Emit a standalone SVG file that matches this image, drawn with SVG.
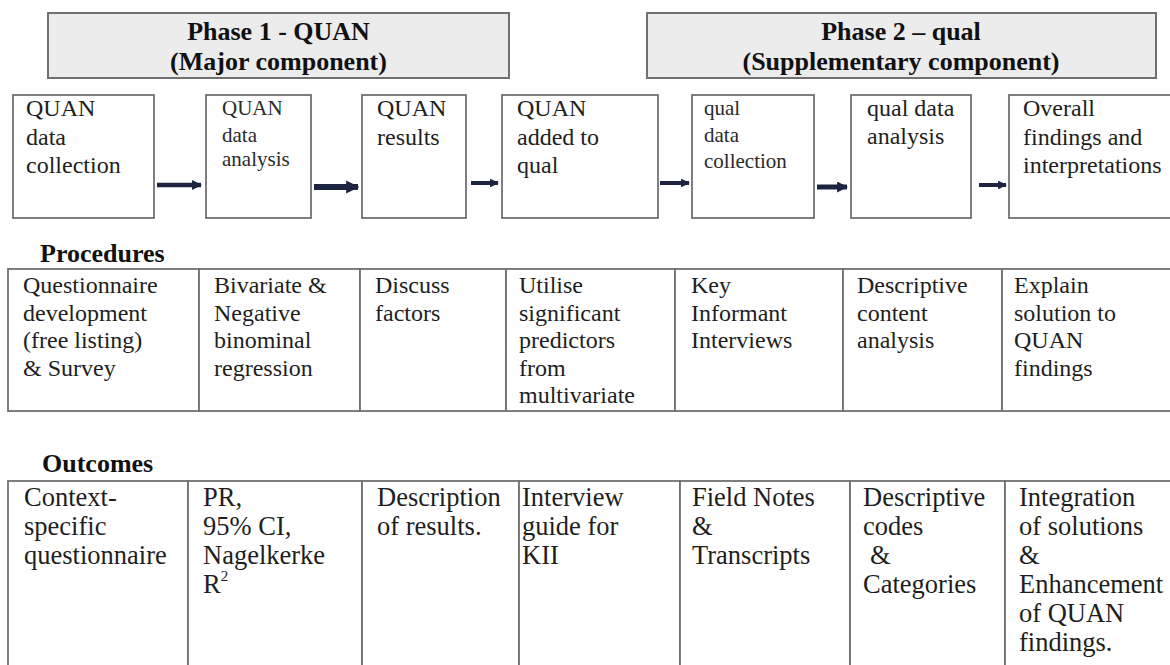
<svg xmlns="http://www.w3.org/2000/svg" width="1170" height="665" viewBox="0 0 1170 665">
<defs>
<style>
.bg{fill:#ffffff}
.phase{fill:#ececec;stroke:#707070;stroke-width:2}
.box{fill:#ffffff;stroke:#606060;stroke-width:1.6}
.cell{fill:#ffffff;stroke:#707070;stroke-width:1.8}
.t{font-family:"Liberation Serif","Times New Roman",serif;font-size:24px;fill:#1e1e1e}
.ts{font-family:"Liberation Serif","Times New Roman",serif;font-size:21px;fill:#2a2a2a}
.to{font-family:"Liberation Serif","Times New Roman",serif;font-size:26.5px;fill:#1e1e1e}
.h{font-family:"Liberation Serif","Times New Roman",serif;font-size:26px;font-weight:bold;fill:#111111}
.arr{stroke:#1c2440;fill:none}
</style>
<marker id="ah" viewBox="0 0 10 10" refX="9" refY="5" markerWidth="2.2" markerHeight="2.2" orient="auto" markerUnits="strokeWidth">
<path d="M0,0 L10,5 L0,10 Z" fill="#1c2440"/>
</marker>
</defs>
<rect class="bg" x="0" y="0" width="1170" height="665"/>

<g id="phase1">
<rect class="phase" x="48" y="13" width="461" height="65"/>
<text class="h" x="278.5" y="40" text-anchor="middle">Phase 1 - QUAN</text>
<text class="h" x="278.5" y="70" text-anchor="middle">(Major component)</text>
</g>
<g id="phase2">
<rect class="phase" x="647" y="13" width="509" height="65"/>
<text class="h" x="901" y="40" text-anchor="middle">Phase 2 – qual</text>
<text class="h" x="901" y="70" text-anchor="middle">(Supplementary component)</text>
</g>

<g id="step1">
<rect class="box" x="13" y="95" width="141" height="123"/>
<text class="t" x="26" y="116">QUAN</text>
<text class="t" x="26" y="145">data</text>
<text class="t" x="26" y="173">collection</text>
</g>
<g id="step2">
<rect class="box" x="206" y="95" width="105" height="123"/>
<text class="ts" x="222" y="115">QUAN</text>
<text class="ts" x="222" y="142">data</text>
<text class="ts" x="222" y="166">analysis</text>
</g>
<g id="step3">
<rect class="box" x="362" y="95" width="104" height="123"/>
<text class="t" x="377" y="116">QUAN</text>
<text class="t" x="377" y="145">results</text>
</g>
<g id="step4">
<rect class="box" x="502" y="95" width="156" height="123"/>
<text class="t" x="517" y="116">QUAN</text>
<text class="t" x="517" y="145">added to</text>
<text class="t" x="517" y="173">qual</text>
</g>
<g id="step5">
<rect class="box" x="692" y="95" width="122" height="123"/>
<text class="ts" x="704" y="115">qual</text>
<text class="ts" x="704" y="142">data</text>
<text class="ts" x="704" y="168">collection</text>
</g>
<g id="step6">
<rect class="box" x="851" y="95" width="120" height="123"/>
<text class="t" x="867" y="116">qual data</text>
<text class="t" x="867" y="144">analysis</text>
</g>
<g id="step7">
<rect class="box" x="1009" y="95" width="165" height="123"/>
<text class="t" x="1023" y="116">Overall</text>
<text class="t" x="1023" y="145">findings and</text>
<text class="t" x="1023" y="173">interpretations</text>
</g>

<g id="connectors">
<line class="arr" x1="157" y1="185" x2="201" y2="185" stroke-width="4.5" marker-end="url(#ah)"/>
<line class="arr" x1="314" y1="187" x2="358" y2="187" stroke-width="6" marker-end="url(#ah)"/>
<line class="arr" x1="471" y1="183" x2="498" y2="183" stroke-width="4" marker-end="url(#ah)"/>
<line class="arr" x1="660" y1="183" x2="689" y2="183" stroke-width="4" marker-end="url(#ah)"/>
<line class="arr" x1="817" y1="187" x2="847" y2="187" stroke-width="5" marker-end="url(#ah)"/>
<line class="arr" x1="979" y1="185" x2="1006" y2="185" stroke-width="4" marker-end="url(#ah)"/>
</g>

<g id="procedures-label">
<text class="h" x="40" y="262">Procedures</text>
</g>
<g id="procedures">
<g id="proc1">
<rect class="cell" x="8" y="269" width="191" height="142"/>
<text class="t" x="23" y="293">Questionnaire</text>
<text class="t" x="23" y="321">development</text>
<text class="t" x="23" y="348">(free listing)</text>
<text class="t" x="23" y="376">&amp; Survey</text>
</g>
<g id="proc2">
<rect class="cell" x="199" y="269" width="161" height="142"/>
<text class="t" x="214" y="293">Bivariate &amp;</text>
<text class="t" x="214" y="321">Negative</text>
<text class="t" x="214" y="348">binominal</text>
<text class="t" x="214" y="376">regression</text>
</g>
<g id="proc3">
<rect class="cell" x="360" y="269" width="146" height="142"/>
<text class="t" x="375" y="293">Discuss</text>
<text class="t" x="375" y="321">factors</text>
</g>
<g id="proc4">
<rect class="cell" x="506" y="269" width="169" height="142"/>
<text class="t" x="519" y="293">Utilise</text>
<text class="t" x="519" y="321">significant</text>
<text class="t" x="519" y="348">predictors</text>
<text class="t" x="519" y="376">from</text>
<text class="t" x="519" y="403">multivariate</text>
</g>
<g id="proc5">
<rect class="cell" x="675" y="269" width="168" height="142"/>
<text class="t" x="691" y="293">Key</text>
<text class="t" x="691" y="321">Informant</text>
<text class="t" x="691" y="348">Interviews</text>
</g>
<g id="proc6">
<rect class="cell" x="843" y="269" width="159" height="142"/>
<text class="t" x="857" y="293">Descriptive</text>
<text class="t" x="857" y="321">content</text>
<text class="t" x="857" y="348">analysis</text>
</g>
<g id="proc7">
<rect class="cell" x="1002" y="269" width="172" height="142"/>
<text class="t" x="1014" y="293">Explain</text>
<text class="t" x="1014" y="321">solution to</text>
<text class="t" x="1014" y="348">QUAN</text>
<text class="t" x="1014" y="376">findings</text>
</g>
</g>

<g id="outcomes-label">
<text class="h" x="42" y="472">Outcomes</text>
</g>
<g id="outcomes">
<g id="out1">
<rect class="cell" x="8" y="481" width="180" height="195"/>
<text class="to" x="24" y="506">Context-</text>
<text class="to" x="24" y="535">specific</text>
<text class="to" x="24" y="564">questionnaire</text>
</g>
<g id="out2">
<rect class="cell" x="188" y="481" width="174" height="195"/>
<text class="to" x="203" y="506">PR,</text>
<text class="to" x="203" y="535">95% CI,</text>
<text class="to" x="203" y="564">Nagelkerke</text>
<text class="to" x="203" y="593">R<tspan font-size="15" dy="-12">2</tspan></text>
</g>
<g id="out3">
<rect class="cell" x="362" y="481" width="157" height="195"/>
<text class="to" x="377" y="506">Description</text>
<text class="to" x="377" y="535">of results.</text>
</g>
<g id="out4">
<rect class="cell" x="519" y="481" width="161" height="195"/>
<text class="to" x="522" y="506">Interview</text>
<text class="to" x="522" y="535">guide for</text>
<text class="to" x="522" y="564">KII</text>
</g>
<g id="out5">
<rect class="cell" x="680" y="481" width="170" height="195"/>
<text class="to" x="692" y="506">Field Notes</text>
<text class="to" x="692" y="535">&amp;</text>
<text class="to" x="692" y="564">Transcripts</text>
</g>
<g id="out6">
<rect class="cell" x="850" y="481" width="155" height="195"/>
<text class="to" x="863" y="506">Descriptive</text>
<text class="to" x="863" y="535">codes</text>
<text class="to" x="870" y="564">&amp;</text>
<text class="to" x="863" y="593">Categories</text>
</g>
<g id="out7">
<rect class="cell" x="1005" y="481" width="169" height="195"/>
<text class="to" x="1019" y="506">Integration</text>
<text class="to" x="1019" y="535">of solutions</text>
<text class="to" x="1019" y="564">&amp;</text>
<text class="to" x="1019" y="593">Enhancement</text>
<text class="to" x="1019" y="622">of QUAN</text>
<text class="to" x="1019" y="651">findings.</text>
</g>
</g>
</svg>
